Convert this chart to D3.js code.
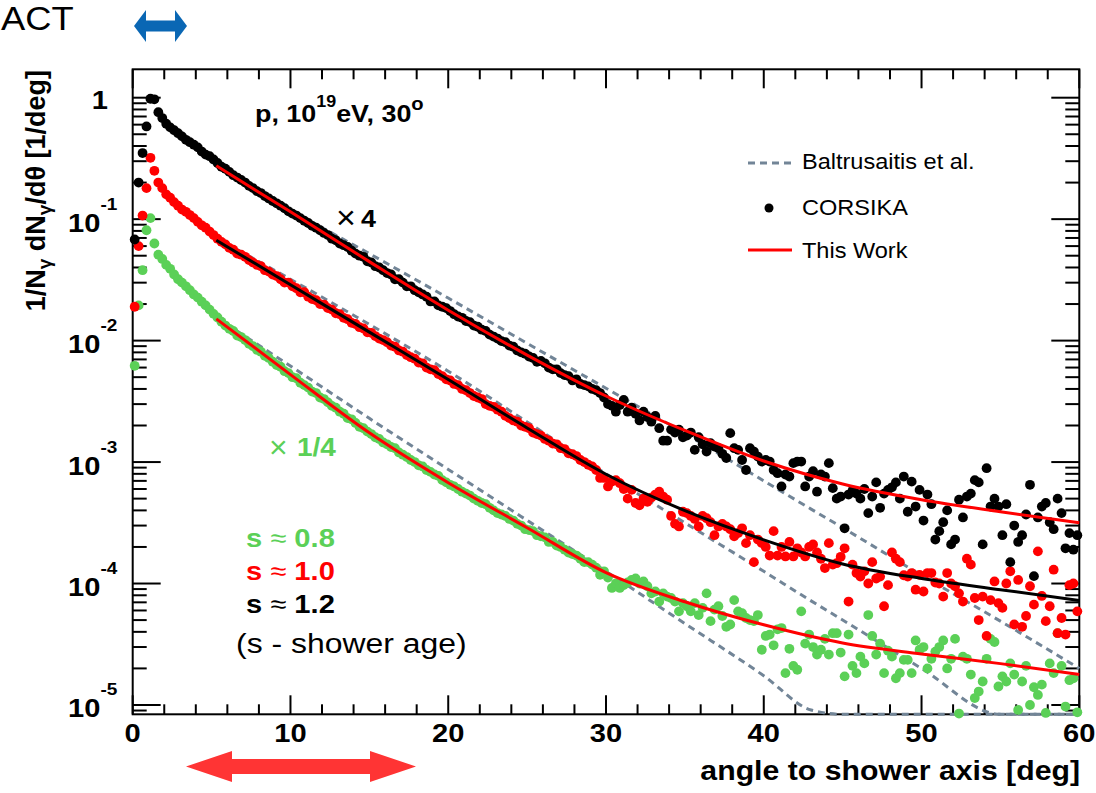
<!DOCTYPE html>
<html>
<head>
<meta charset="utf-8">
<script src="https://cdn.jsdelivr.net/npm/d3@7"></script>
<style>
  html, body { margin: 0; padding: 0; background: #fff; }
  svg { display: block; font-family: "Liberation Sans", Arial, Helvetica, sans-serif; }
</style>
</head>
<body>
<svg id="chart" width="1096" height="793"></svg>
<script>
// CORSIKA histograms, 0.25 deg bins from 0 to 60 deg (4 values per degree)
const binWidth = 0.25;

// s ~ 1.2, scaled x4
const blackVals = [
  0.068,0.20,0.35,0.58, 0.98,0.97,0.76,0.68, 0.61,0.57,0.54,0.51, 0.48,0.45,0.43,0.41, 0.39,0.36,0.34,0.33,
  0.31,0.29,0.27,0.26, 0.245,0.23,0.22,0.21, 0.20,0.188,0.18,0.17, 0.164,0.155,0.148,0.141, 0.135,0.129,0.123,0.116,
  0.111,0.107,0.102,0.097, 0.093,0.088,0.085,0.081, 0.077,0.074,0.069,0.067, 0.063,0.061,0.059,0.055, 0.052,0.050,0.049,0.045,
  0.044,0.041,0.040,0.038, 0.036,0.035,0.032,0.032, 0.030,0.028,0.028,0.026, 0.025,0.024,0.023,0.021, 0.021,0.0195,0.019,0.0185,
  0.0175,0.0165,0.0158,0.0154, 0.0145,0.0142,0.0133,0.0130, 0.0123,0.0120,0.0112,0.0108, 0.0104,0.0099,0.0097,0.0091, 0.0089,0.0083,0.0080,0.0078,
  7.4e-3,7.2e-3,6.7e-3,6.8e-3, 6.5e-3,6.0e-3,5.8e-3,5.8e-3, 5.4e-3,5.2e-3,5.1e-3,4.7e-3, 4.8e-3,4.4e-3,4.3e-3,4.2e-3, 4.0e-3,3.9e-3,3.7e-3,3.4e-3,
  3.0e-3,2.9e-3,2.6e-3,2.95e-3, 3.25e-3,2.6e-3,2.8e-3,2.5e-3, 2.2e-3,2.6e-3,2.35e-3,2.15e-3, 2.4e-3,1.9e-3,1.5e-3,1.5e-3, 1.85e-3,1.75e-3,1.85e-3,1.6e-3,
  1.65e-3,1.75e-3,1.26e-3,1.6e-3, 1.4e-3,1.22e-3,1.43e-3,1.34e-3, 1.3e-3,1.17e-3,1.08e-3,1.73e-3, 1.3e-3,1.26e-3,1.04e-3,8.6e-4, 1.3e-3,1.22e-3,1.11e-3,1.01e-3,
  1.04e-3,1.01e-3,8.6e-4,8.1e-4, 6.3e-4,7.9e-4,7.6e-4,9.8e-4, 1.01e-3,1.01e-3,6.3e-4,7.6e-4, 8.4e-4,5.7e-4,7.9e-4,7.6e-4, 9.8e-4,6.1e-4,5.0e-4,5.2e-4,
  2.85e-4,5.4e-4,5.8e-4,5.5e-4, 5.0e-4,6.0e-4,3.8e-4,5.2e-4, 6.8e-4,4.2e-4,5.5e-4,5.9e-4, 6.2e-4,6.8e-4,5.0e-4,7.6e-4, 3.9e-4,6.9e-4,4.3e-4,5.9e-4,
  3.3e-4,5.4e-4,4.5e-4,2.3e-4, 2.7e-4,3.2e-4,4.0e-4,2.1e-4, 2.3e-4,4.9e-4,3.5e-4,5.2e-4, 5.5e-4,7.1e-4,6.8e-4,2.1e-4, 8.9e-4,4.3e-4,5.0e-4,4.3e-4,
  2.5e-4,4.5e-4,1.5e-4,3.0e-4, 2.2e-4,2.5e-4,3.7e-4,6.5e-4, 1.15e-4,3.5e-4,4.3e-4,4.6e-4, 3.2e-4,2.8e-4,5.0e-4,3.8e-4, 1.95e-4,2.6e-4,1.9e-4,2.5e-4
];

// s ~ 1.0
const redVals = [
  0.019,0.060,0.107,0.18, 0.32,0.25,0.20,0.18, 0.16,0.15,0.138,0.129, 0.12,0.115,0.108,0.102, 0.095,0.089,0.085,0.079,
  0.074,0.069,0.065,0.062, 0.058,0.056,0.052,0.051, 0.049,0.046,0.044,0.042, 0.041,0.038,0.037,0.035, 0.034,0.032,0.030,0.030,
  0.028,0.027,0.025,0.025, 0.023,0.022,0.0215,0.020, 0.0198,0.0185,0.0180,0.0168, 0.0165,0.0154,0.0150,0.0140, 0.0137,0.0129,0.0126,0.0117,
  0.0116,0.0109,0.0104,0.0101, 9.7e-3,9.1e-3,8.9e-3,8.3e-3, 8.1e-3,7.6e-3,7.3e-3,7.1e-3, 6.6e-3,6.5e-3,6.0e-3,5.8e-3, 5.7e-3,5.3e-3,5.1e-3,4.8e-3,
  4.7e-3,4.4e-3,4.3e-3,4.0e-3, 3.9e-3,3.7e-3,3.5e-3,3.4e-3, 3.3e-3,3.0e-3,2.9e-3,2.85e-3, 2.7e-3,2.6e-3,2.4e-3,2.3e-3, 2.2e-3,2.15e-3,2.0e-3,1.95e-3,
  1.9e-3,1.75e-3,1.7e-3,1.65e-3, 1.55e-3,1.5e-3,1.42e-3,1.4e-3, 1.3e-3,1.28e-3,1.18e-3,1.16e-3, 1.12e-3,1.04e-3,1.0e-3,9.5e-4, 9.2e-4,8.6e-4,7.4e-4,7.4e-4,
  6.3e-4,6.9e-4,7.1e-4,6.7e-4, 6.0e-4,5.0e-4,5.9e-4,4.6e-4, 4.4e-4,5.0e-4,4.7e-4,5.1e-4, 5.4e-4,5.7e-4,5.2e-4,4.9e-4, 3.6e-4,3.1e-4,2.95e-4,3.9e-4,
  3.8e-4,3.6e-4,3.4e-4,2.95e-4, 3.6e-4,3.45e-4,3.2e-4,2.5e-4, 2.95e-4,3.1e-4,2.95e-4,2.8e-4, 2.45e-4,2.6e-4,2.85e-4,2.15e-4, 2.5e-4,1.5e-4,2.3e-4,2.15e-4,
  2.0e-4,1.7e-4,2.7e-4,1.7e-4, 2.0e-4,1.67e-4,2.2e-4,1.67e-4, 1.95e-4,1.8e-4,1.67e-4,2.0e-4, 2.1e-4,1.8e-4,1.6e-4,1.34e-4, 2.15e-4,1.43e-4,1.47e-4,1.66e-4,
  1.95e-4,7.1e-5,1.43e-4,1.22e-4, 1.14e-4,1.26e-4,1.0e-4,1.5e-4, 1.1e-4,1.14e-4,6.5e-5,9.7e-5, 1.8e-4,1.6e-4,1.5e-4,1.17e-4, 1.14e-4,1.22e-4,8.9e-5,1.18e-4,
  8.6e-5,1.22e-4,1.22e-4,1.02e-4, 1.0e-4,7.8e-5,1.22e-4,1.0e-4, 9.5e-5,8.3e-5,7.1e-5,1.6e-4, 1.43e-4,7.6e-5,5.0e-5,7.8e-5, 3.7e-5,7.3e-5,1.04e-4,6.9e-5,
  6.3e-5,1.0e-4,1.26e-4,4.6e-5, 1.07e-4,4.4e-5,5.4e-5,9.5e-5, 6.7e-5,1.84e-4,7.9e-5,4.9e-5, 6.5e-5,1.3e-4,3.9e-5,5.2e-5, 3.8e-5,9.7e-5,1.0e-4,5.9e-5
];

// s ~ 0.8, scaled x1/4
const greenVals = [
  6.2e-3,0.0195,0.038,0.081, 0.102,0.063,0.051,0.047, 0.042,0.039,0.035,0.032, 0.030,0.028,0.026,0.024, 0.0226,0.0209,0.0195,0.018,
  0.0166,0.0155,0.0143,0.0133, 0.0125,0.0120,0.0110,0.0107, 0.0101,9.4e-3,9.0e-3,8.4e-3, 8.1e-3,7.5e-3,7.2e-3,6.7e-3, 6.3e-3,6.1e-3,5.6e-3,5.4e-3,
  5.0e-3,4.9e-3,4.5e-3,4.3e-3, 4.1e-3,3.8e-3,3.7e-3,3.4e-3, 3.3e-3,3.1e-3,2.9e-3,2.8e-3, 2.6e-3,2.5e-3,2.3e-3,2.25e-3, 2.1e-3,1.95e-3,1.9e-3,1.78e-3,
  1.7e-3,1.6e-3,1.55e-3,1.45e-3, 1.4e-3,1.33e-3,1.3e-3,1.2e-3, 1.15e-3,1.1e-3,1.04e-3,1.0e-3, 9.4e-4,9.2e-4,8.6e-4,8.3e-4, 7.9e-4,7.7e-4,7.1e-4,6.8e-4,
  6.5e-4,6.3e-4,6.0e-4,5.7e-4, 5.5e-4,5.3e-4,5.0e-4,4.8e-4, 4.6e-4,4.5e-4,4.2e-4,4.0e-4, 3.8e-4,3.7e-4,3.6e-4,3.4e-4, 3.3e-4,3.1e-4,3.0e-4,2.8e-4,
  2.75e-4,2.7e-4,2.5e-4,2.45e-4, 2.4e-4,2.2e-4,2.2e-4,2.05e-4, 2.0e-4,1.9e-4,1.8e-4,1.75e-4, 1.7e-4,1.6e-4,1.5e-4,1.5e-4, 1.43e-4,1.35e-4,1.18e-4,1.26e-4,
  1.12e-4,9.2e-5,1.0e-4,9.2e-5, 9.7e-5,1.02e-4,1.07e-4,1.1e-4, 1.0e-4,1.04e-4,9.5e-5,8.3e-5, 8.6e-5,7.1e-5,8.3e-5,7.8e-5, 7.6e-5,7.1e-5,5.9e-5,6.9e-5,
  6.5e-5,5.9e-5,6.9e-5,5.5e-5, 6.3e-5,8.3e-5,4.9e-5,6.1e-5, 6.5e-5,5.4e-5,4.4e-5,4.6e-5, 7.3e-5,5.9e-5,5.7e-5,5.2e-5, 5.0e-5,4.9e-5,5.5e-5,2.85e-5,
  3.7e-5,3.8e-5,3.1e-5,4.2e-5, 4.3e-5,1.83e-5,2.9e-5,2.1e-5, 1.95e-5,5.9e-5,3.2e-5,3.8e-5, 3.0e-5,2.6e-5,2.85e-5,3.5e-5, 2.6e-5,3.9e-5,3.9e-5,2.7e-5,
  1.72e-5,3.8e-5,2.1e-5,1.83e-5, 2.5e-5,2.2e-5,5.5e-5,3.7e-5, 2.6e-5,3.2e-5,1.83e-5,2.8e-5, 2.5e-5,1.66e-5,1.83e-5,2.35e-5, 2.35e-5,1.83e-5,3.4e-5,2.85e-5,
  3.0e-5,2.0e-5,2.4e-5,2.75e-5, 3.0e-5,3.4e-5,2.0e-5,2.4e-5, 3.5e-5,8.5e-6,2.5e-5,2.4e-5, 1.78e-5,1.14e-5,1.29e-5,1.56e-5, 2.4e-5,3.5e-5,3.3e-5,1.42e-5,
  1.72e-5,1.56e-5,2.2e-5,1.78e-5, 9.1e-6,1.56e-5,2.1e-5,1.0e-5, 1.4e-5,1.21e-5,1.47e-5,8.6e-6, 2.2e-5,1.83e-5,3.9e-5,2.1e-5, 9.7e-6,1.6e-5,1.66e-5,8.7e-6
];

// "This Work" curves
const fitAngles = [5.3, 10, 15, 20, 25, 30, 35, 40, 45, 50, 55, 60];
const fitBlackSeries = [0.275, 0.115, 0.0447, 0.0178, 7.6e-3, 3.5e-3, 1.82e-3, 1.02e-3, 6.6e-4, 4.9e-4, 3.9e-4, 3.16e-4];
const fitRedSeries = [0.0671, 0.0288, 0.01175, 4.79e-3, 1.91e-3, 7.94e-4, 3.98e-4, 2.29e-4, 1.45e-4, 1.10e-4, 8.9e-5, 7.24e-5];
const fitGreenSeries = [0.0151, 5.25e-3, 1.74e-3, 6.76e-4, 2.88e-4, 1.23e-4, 7.08e-5, 4.57e-5, 3.24e-5, 2.63e-5, 2.19e-5, 1.78e-5];

// Baltrusaitis et al. curves
const baltAngles = [5.3, 10, 15, 20, 25, 30, 35, 40, 43, 45, 50, 55, 60];
const baltBlack = [0.272, 0.119, 0.0520, 0.0224, 9.5e-3, 4.05e-3, 1.72e-3, 7.0e-4, 4.1e-4, 2.88e-4, 1.17e-4, 4.9e-5, 2.0e-5];
const baltRed = [0.0700, 0.0320, 0.0136, 5.6e-3, 2.14e-3, 8.0e-4, 3.16e-4, 1.26e-4, 7.2e-5, 5.01e-5, 2.0e-5, 7.94e-6, 3.16e-6];
const baltGreen = [0.0155, 6.17e-3, 2.29e-3, 8.7e-4, 3.31e-4, 1.26e-4, 4.68e-5, 1.74e-5, 9.1e-6, 6.5e-6, 2.4e-6, 9e-7, 3.4e-7];

const xTicks = [0, 10, 20, 30, 40, 50, 60];
const yDecades = [-5, -4, -3, -2, -1, 0];

const colBlack = '#000000', colRed = '#ff0000', colGreen = '#5bd057', colDash = '#728597';
const stretch = 1.12;

const svg = d3.select('#chart');
const frameL = 132.7, frameR = 1079.3, frameT = 69.3, frameB = 714.3;

const x = d3.scaleLinear().domain([0, 60]).range([frameL, frameR]);
const y = d3.scaleLog().domain([8.38e-6, 1.713]).range([frameB, frameT]);
const yc = y.copy().clamp(true);

function label(g, px, py, o, parts) {
  const sx = o.sx === undefined ? stretch : o.sx;
  const t = g.append('text')
    .attr('transform', o.rotate ? `translate(${px},${py}) rotate(-90)` : `translate(${px},${py}) scale(${sx},1)`)
    .attr('text-anchor', o.anchor || 'start')
    .attr('font-size', o.size)
    .attr('font-weight', o.weight || 'normal')
    .attr('fill', o.fill || '#000');
  parts.forEach(p => {
    const s = t.append('tspan').text(typeof p === 'string' ? p : p.text);
    if (typeof p !== 'string') {
      if (p.size) s.attr('font-size', p.size);
      if (p.dy) s.attr('dy', p.dy);
      if (p.weight) s.attr('font-weight', p.weight);
    }
  });
  return t;
}

function dblArrow(x0, x1, cy, headLen, headHalf, shaftHalf, color) {
  const pts = [
    [x0, cy], [x0 + headLen, cy - headHalf], [x0 + headLen, cy - shaftHalf],
    [x1 - headLen, cy - shaftHalf], [x1 - headLen, cy - headHalf], [x1, cy],
    [x1 - headLen, cy + headHalf], [x1 - headLen, cy + shaftHalf],
    [x0 + headLen, cy + shaftHalf], [x0 + headLen, cy + headHalf]
  ];
  svg.append('polygon').attr('points', pts.map(p => p.join(',')).join(' ')).attr('fill', color);
}

// frame and ticks
const axisG = svg.append('g').attr('stroke', '#000').attr('stroke-width', 2);
d3.range(0, 61, 2).forEach(v => {
  const len = v % 10 === 0 ? 19 : 10;
  axisG.append('line').attr('x1', x(v)).attr('x2', x(v)).attr('y1', frameB).attr('y2', frameB - len);
  axisG.append('line').attr('x1', x(v)).attr('x2', x(v)).attr('y1', frameT).attr('y2', frameT + len);
});
const [yMin, yMax] = y.domain();
d3.range(-6, 1).forEach(n => {
  d3.range(1, 10).forEach(m => {
    const v = m * Math.pow(10, n);
    if (v < yMin || v > yMax) return;
    const len = m === 1 ? 28 : 14;
    axisG.append('line').attr('x1', frameL).attr('x2', frameL + len).attr('y1', y(v)).attr('y2', y(v));
    axisG.append('line').attr('x1', frameR).attr('x2', frameR - len).attr('y1', y(v)).attr('y2', y(v));
  });
});
axisG.append('rect').attr('x', frameL).attr('y', frameT).attr('width', frameR - frameL).attr('height', frameB - frameT)
  .attr('fill', 'none');

// tick labels
const textG = svg.append('g');
xTicks.forEach(v => label(textG, x(v), 742, { anchor: 'middle', size: 26, weight: 'bold' }, [String(v)]));
yDecades.forEach(n => {
  const ty = y(Math.pow(10, n));
  if (n === 0) {
    label(textG, 108, ty + 11, { anchor: 'end', size: 26, weight: 'bold' }, ['1']);
  } else {
    label(textG, 100.5, ty + 12.5, { anchor: 'end', size: 26, weight: 'bold' }, ['10']);
    label(textG, 100.5, ty - 9.5, { anchor: 'start', size: 17, weight: 'bold' }, [String(n)]);
  }
});

// axis titles
label(textG, 1080, 780, { anchor: 'end', size: 27, weight: 'bold' }, ['angle to shower axis [deg]']);
label(textG, 45, 70, { anchor: 'end', size: 27, weight: 'bold', rotate: true }, [
  '1/N', { text: 'γ', size: 19, dy: 6 }, { text: ' dN', dy: -6 }, { text: 'γ', size: 19, dy: 6 }, { text: '/dθ [1/deg]', dy: -6 }
]);

// Baltrusaitis dashed curves
const line = d3.line().x(d => x(d[0])).y(d => yc(d[1])).curve(d3.curveMonotoneX);
const dashG = svg.append('g').attr('fill', 'none').attr('stroke', colDash).attr('stroke-width', 3).attr('stroke-dasharray', '7,5');
[baltBlack, baltRed, baltGreen].forEach(vals => {
  dashG.append('path').attr('d', line(baltAngles.map((a, i) => [a, vals[i]])));
});

// CORSIKA points
const series = [
  { vals: greenVals, color: colGreen },
  { vals: redVals, color: colRed },
  { vals: blackVals, color: colBlack }
];
series.forEach(s => {
  svg.append('g').selectAll('circle')
    .data(s.vals.map((v, i) => [(i + 0.5) * binWidth, v]))
    .enter().append('circle')
    .attr('cx', d => x(d[0]))
    .attr('cy', d => y(d[1]))
    .attr('r', 4.9)
    .attr('fill', s.color);
});

// This Work curves
const fitG = svg.append('g').attr('fill', 'none').attr('stroke-width', 3);
[[fitBlackSeries, colRed], [fitRedSeries, colBlack], [fitGreenSeries, colRed]].forEach(([vals, c]) => {
  fitG.append('path').attr('stroke', c).attr('d', line(fitAngles.map((a, i) => [a, vals[i]])));
});

// legend
const legG = svg.append('g');
legG.append('line').attr('x1', 748).attr('x2', 792).attr('y1', 163).attr('y2', 163)
  .attr('stroke', colDash).attr('stroke-width', 3).attr('stroke-dasharray', '7,5');
legG.append('circle').attr('cx', 769).attr('cy', 208).attr('r', 4.5).attr('fill', colBlack);
legG.append('line').attr('x1', 748).attr('x2', 792).attr('y1', 250).attr('y2', 250)
  .attr('stroke', colRed).attr('stroke-width', 3);
label(legG, 802, 169, { size: 22, sx: 1.07 }, ['Baltrusaitis et al.']);
label(legG, 802, 215, { size: 22, sx: 1.07 }, ['CORSIKA']);
label(legG, 802, 258, { size: 22, sx: 1.07 }, ['This Work']);

// annotations
label(textG, 255, 122, { size: 24, weight: 'bold' }, [
  'p, 10', { text: '19', size: 16, dy: -15.5 }, { text: 'eV, 30', dy: 15.5 }, { text: 'o', size: 18, dy: -12 }
]);
label(textG, 336, 229, { size: 34, sx: 1.0 }, ['×']);
label(textG, 361, 227, { size: 24, weight: 'bold' }, ['4']);
label(textG, 269, 458, { size: 32, sx: 1.0, fill: colGreen }, ['×']);
label(textG, 297, 456, { size: 25, weight: 'bold', fill: colGreen }, ['1/4']);
[['0.8', colGreen, 547], ['1.0', colRed, 580], ['1.2', colBlack, 613]].forEach(([s, c, by]) => {
  label(textG, 246, by, { size: 26, fill: c }, [
    { text: 's', weight: 'bold' }, { text: ' ≈ ' }, { text: s, weight: 'bold' }
  ]);
});
label(textG, 236, 653, { size: 28, sx: 1.14 }, ['(s - shower age)']);
label(textG, 1, 30, { size: 33, sx: 1.1 }, ['ACT']);

dblArrow(134, 187, 26, 12, 16, 5.5, '#0a67b4');
dblArrow(186, 416, 766.5, 46, 15.5, 7.5, '#ff3434');
</script>
</body>
</html>
